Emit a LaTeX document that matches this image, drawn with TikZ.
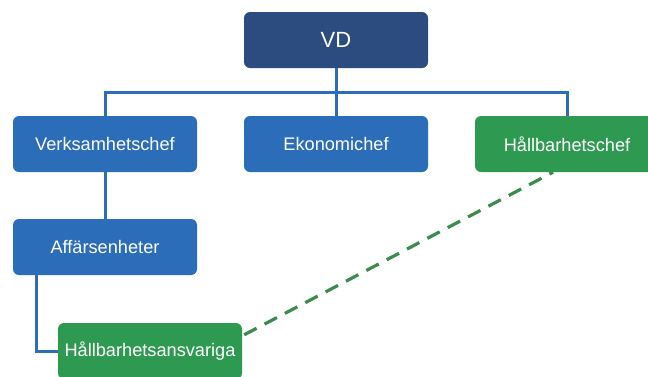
\documentclass[tikz,border=0pt]{standalone}
\usepackage{fontspec}
\setmainfont{Liberation Sans}
\definecolor{vdblue}{HTML}{2C4C7F}
\definecolor{unitblue}{HTML}{2B6DB8}
\definecolor{unitgreen}{HTML}{2E9950}
\definecolor{dashgreen}{HTML}{3A8C4C}

\begin{document}
\begin{tikzpicture}[
  x=1pt, y=-1pt,
  unit node/.style={fill=unitblue, text=white, rounded corners=6pt,
    minimum width=184pt, minimum height=56pt, inner sep=2pt,
    font=\fontsize{18.2}{21}\selectfont},
  top node/.style={unit node, fill=vdblue, font=\fontsize{22}{26}\selectfont},
  green node/.style={unit node, fill=unitgreen},
  unit edge/.style={draw=unitblue, line width=3pt},
  link edge/.style={draw=dashgreen, line width=3.2pt, dash pattern=on 14pt off 9pt}
]
\useasboundingbox (0,0) rectangle (648,376);
\node[top node] (vd) at (336, 40) {VD};
\node[unit node] (verk) at (105, 144) {Verksamhetschef};
\node[unit node] (eko) at (336, 144) {Ekonomichef};
\node[green node] (hchef) at (567, 144) {Hållbarhetschef};
\node[unit node] (aff) at (105, 247) {Affärsenheter};
\node[green node] (hansv) at (150, 351) {Hållbarhetsansvariga};
\coordinate (bus) at (336, 92);
\begin{scope}[on background layer/.try]
\draw[unit edge] (vd.south) -- (eko.north);
\draw[unit edge] (verk.north) |- (bus) -| (hchef.north);
\draw[unit edge] (verk.south) -- (aff.north);
\draw[unit edge] ([xshift=24pt]aff.south west) |- (hansv.west);
\draw[link edge] ([xshift=2pt,yshift=-12pt]hansv.north east) -- ([xshift=-14pt]hchef.south);
\end{scope}
\end{tikzpicture}
\end{document}
